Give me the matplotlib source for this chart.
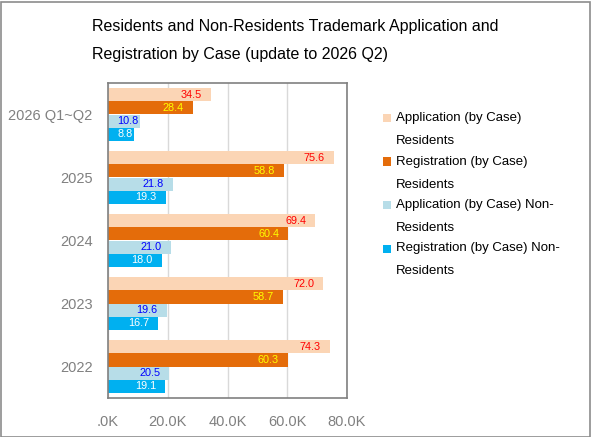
import numpy as np
import matplotlib.pyplot as plt
from matplotlib.patches import Rectangle

plt.rcParams['font.family'] = ['Liberation Sans', 'DejaVu Sans']

categories = ['2026 Q1~Q2', '2025', '2024', '2023', '2022']
app_res = [34.5, 75.6, 69.4, 72.0, 74.3]
reg_res = [28.4, 58.8, 60.4, 58.7, 60.3]
app_nonres = [10.8, 21.8, 21.0, 19.6, 20.5]
reg_nonres = [8.8, 19.3, 18.0, 16.7, 19.1]

series_names = ['Application (by Case)\nResidents',
                'Registration (by Case)\nResidents',
                'Application (by Case) Non-\nResidents',
                'Registration (by Case) Non-\nResidents']
bar_colors = ['#FBD5B5', '#E46C0A', '#B7DDE8', '#00B0F0']
label_colors = ['#FF0000', '#FFFF00', '#0000FF', '#FFFFFF']
series = [app_res, reg_res, app_nonres, reg_nonres]

fig = plt.figure(figsize=(5.92, 4.37), dpi=100)
W, H = 592, 437
ax = fig.add_axes([108 / W, 1 - 398 / H, 239 / W, 315 / H])

# outer frame
fig.patches.append(Rectangle((0.5 / W, 0.5 / H), 1 - 2.5 / W, 1 - 2.5 / H,
                             transform=fig.transFigure, fill=False,
                             edgecolor='#8C8C8C', linewidth=1.2))

n = len(categories)
y = np.arange(n)
bh = 0.84 / 4
labels = []
for k, (vals, c, lc) in enumerate(zip(series, bar_colors, label_colors)):
    pos = y - 0.42 + bh * (k + 0.5)
    ax.barh(pos, vals, height=bh, color=c, label=series_names[k], zorder=2)
    for p, v in zip(pos, vals):
        t = ax.annotate(f'{v:.1f}', (v, p), xytext=(-6.5, 0), textcoords='offset points',
                        ha='right', va='center', color=lc, fontsize=7.8, zorder=3)
        labels.append((t, p))

ax.set_ylim(n - 0.5, -0.5)
ax.set_xlim(0, 80)
ax.set_yticks(y)
ax.set_yticklabels(categories)
ax.set_xticks([0, 20, 40, 60, 80])
ax.set_xticklabels(['.0K', '20.0K', '40.0K', '60.0K', '80.0K'])
ax.tick_params(axis='both', length=0, labelsize=10.5, labelcolor='#808080')
ax.tick_params(axis='y', pad=11)
ax.tick_params(axis='x', pad=12)
ax.grid(axis='x', color='#D9D9D9', linewidth=1, zorder=0)
ax.set_axisbelow(True)
for s in ax.spines.values():
    s.set_color('#808080')
    s.set_linewidth(1.2)

# short bars: label sits at the inner margin instead
fig.canvas.draw()
x0 = ax.transData.transform((0, 0))[0]
for t, p in labels:
    ext = t.get_window_extent()
    if ext.x0 < x0 + 9:
        t.xy = (0, p)
        t.set_position((6.5, 0))
        t.set_ha('left')

fig.text(92 / W, 1 - 27 / H,
         'Residents and Non-Residents Trademark Application and',
         fontsize=11.5, va='center', ha='left')
fig.text(92 / W, 1 - 54 / H,
         'Registration by Case (update to 2026 Q2)',
         fontsize=11.5, va='center', ha='left')

# legend drawn by hand to get the wide line spacing
for k, name in enumerate(series_names):
    yc = 118 + 43.5 * k
    fig.patches.append(Rectangle((383 / W, 1 - (yc + 4) / H), 8 / W, 8 / H,
                                 transform=fig.transFigure,
                                 facecolor=bar_colors[k], edgecolor='none'))
    l1, l2 = name.split('\n')
    fig.text(396 / W, 1 - yc / H, l1, fontsize=9.5, va='center', ha='left')
    fig.text(396 / W, 1 - (yc + 23) / H, l2, fontsize=9.5, va='center', ha='left')

fig.savefig('out.png', dpi=100)
